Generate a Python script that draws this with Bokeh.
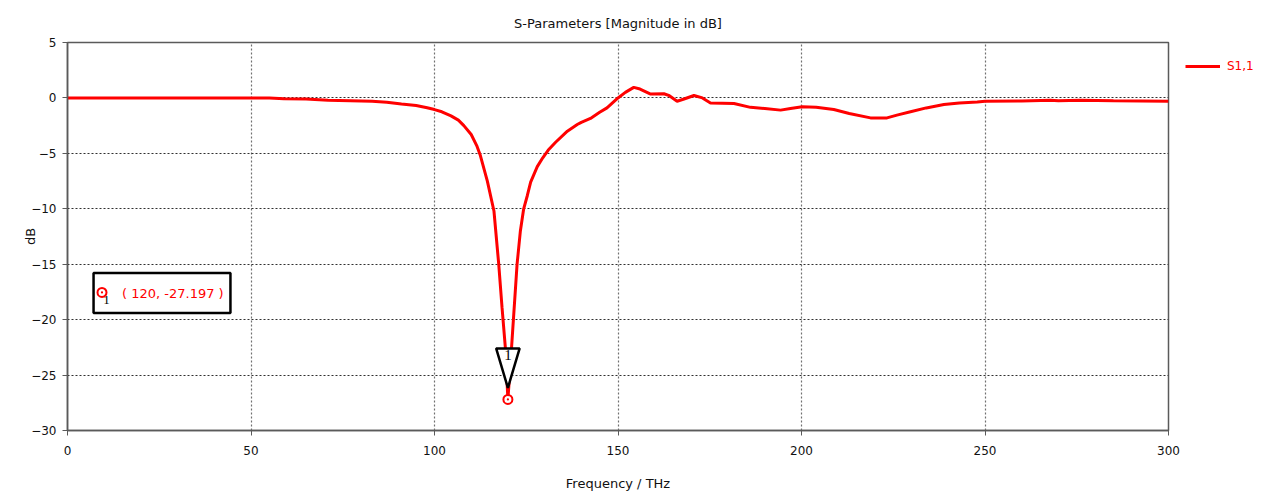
from bokeh.plotting import figure
from bokeh.models import Range1d, FixedTicker, Legend, LegendItem
from bokeh.core.properties import value
from bokeh.embed import file_html
from bokeh.resources import INLINE

# ---------------- data ----------------
freq_thz = [0, 20, 40, 55, 59, 65, 71, 77, 83, 87, 91, 95, 98, 100, 102, 104.5,
            106.5, 108, 110, 111.5, 112.5, 114.4, 116.2, 117.5, 118.4, 119.3, 120,
            121, 122.1, 122.5, 123.4, 124.3, 125.3, 126.2, 128, 129.5, 131, 133,
            136.2, 138.9, 140, 142.5, 145, 147, 150, 152, 154.3, 156, 158.9, 162.5,
            164, 166.1, 168, 170.7, 173, 175.2, 181.6, 186.1, 190, 194.3, 197, 200.2,
            204, 208.8, 213, 218.8, 223.3, 226, 229.7, 234, 238.8, 243, 247.9, 250,
            260, 267.8, 270, 276, 285, 300]
s11_db = [0, 0, 0, 0, -0.08, -0.1, -0.2, -0.25, -0.3, -0.38, -0.54, -0.68, -0.88,
          -1.05, -1.25, -1.62, -2.0, -2.5, -3.3, -4.3, -5.2, -7.5, -10.2, -15.0,
          -18.9, -22.5, -27.197, -22.5, -17.0, -15.0, -12.0, -10.0, -8.8, -7.6,
          -6.2, -5.4, -4.7, -4.0, -3.0, -2.4, -2.2, -1.85, -1.3, -0.9, 0.0, 0.5,
          0.95, 0.8, 0.35, 0.38, 0.2, -0.3, -0.1, 0.22, 0.0, -0.45, -0.5, -0.85,
          -0.95, -1.1, -0.95, -0.8, -0.85, -1.05, -1.4, -1.8, -1.8, -1.55, -1.25,
          -0.9, -0.6, -0.45, -0.37, -0.3, -0.27, -0.22, -0.25, -0.22, -0.26, -0.3]
x_ticks = [0, 50, 100, 150, 200, 250, 300]
y_ticks = [-30, -25, -20, -15, -10, -5, 0, 5]
series_name = "S1,1"
marker_id = "1"
marker_f = 120
marker_db = -27.197

# ---------------- style ----------------
RED = "#ff0000"
FONT = "DejaVu Sans"
FRAME = "#5a5a5a"

p = figure(frame_width=1101, frame_height=388, output_backend="svg",
           toolbar_location=None,
           x_range=Range1d(0, 300), y_range=Range1d(-30, 5),
           title="S-Parameters [Magnitude in dB]",
           x_axis_label="Frequency / THz", y_axis_label="dB")
p.min_border_left = 67
p.min_border_right = 96
p.min_border_top = 42
p.min_border_bottom = 65
p.background_fill_color = "white"
p.border_fill_color = "white"
p.outline_line_color = FRAME
p.outline_line_width = 1.5

p.title.align = "center"
p.title.text_font = FONT
p.title.text_font_size = "13px"
p.title.text_font_style = "normal"
p.title.text_color = "#111111"
p.title.offset = 0
p.title.standoff = 24

for ax in (p.xaxis[0], p.yaxis[0]):
    ax.axis_line_color = FRAME
    ax.axis_line_width = 1.5
    ax.major_tick_line_color = FRAME
    ax.major_tick_out = 5
    ax.major_tick_in = 0
    ax.minor_tick_out = 0
    ax.minor_tick_in = 0
    ax.major_label_text_font = FONT
    ax.major_label_text_font_size = "12px"
    ax.major_label_text_color = "#111111"
    ax.axis_label_text_font = FONT
    ax.axis_label_text_font_size = "13px"
    ax.axis_label_text_font_style = "normal"
    ax.axis_label_text_color = "#111111"
p.xaxis.ticker = FixedTicker(ticks=x_ticks)
p.yaxis.ticker = FixedTicker(ticks=y_ticks)
p.xaxis.major_label_standoff = 10
p.xaxis.axis_label_standoff = 18
p.yaxis.major_label_standoff = 6
p.yaxis.axis_label_standoff = -10

p.xgrid.ticker = FixedTicker(ticks=x_ticks)
p.ygrid.ticker = FixedTicker(ticks=y_ticks)
p.xgrid.grid_line_color = "#707070"
p.ygrid.grid_line_color = "#303030"
p.xgrid.grid_line_dash = "2 2"
p.ygrid.grid_line_dash = "2 2"
p.xgrid.grid_line_width = 1.2
p.ygrid.grid_line_width = 1.2

line = p.line(freq_thz, s11_db, line_color=RED, line_width=3)

# marker triangle (offsets from the marker point)
tri_half_w = 3.2
tri_top = marker_db + 4.6
tri_apex = marker_db + 1.05
p.patch([marker_f - tri_half_w, marker_f + tri_half_w, marker_f],
        [tri_top, tri_top, tri_apex],
        fill_color="white", line_color="black", line_width=2.5)
p.text([marker_f], [tri_top - 0.1], text=[marker_id], text_font_size="15px",
       text_align="center", text_baseline="top", text_color="black",
       text_font=value("Liberation Serif"))
p.scatter([marker_f], [marker_db], marker="circle_dot", size=9,
          line_color=RED, line_width=2, fill_color="white")

# marker info box
box_l, box_r, box_t, box_b = 7.1, 44.4, -15.8, -19.4
p.quad(left=[box_l], right=[box_r], top=[box_t], bottom=[box_b],
       fill_color="white", line_color="black", line_width=2.5)
p.scatter([box_l + 2.3], [box_t - 1.75], marker="circle_dot", size=9,
          line_color=RED, line_width=2, fill_color="white")
p.text([box_l + 3.5], [box_t - 2.1], text=[marker_id], text_font_size="13px",
       text_align="center", text_baseline="top", text_color="black",
       text_font=value("Liberation Serif"))
p.text([box_l + 21.6], [(box_t + box_b) / 2],
       text=[f"( {marker_f}, {marker_db} )"], text_font_size="13px",
       text_align="center", text_baseline="middle", text_color=RED,
       text_font=value(FONT))

legend = Legend(items=[LegendItem(label=series_name, renderers=[line])],
                location="top_left", margin=17, padding=0, border_line_color=None,
                background_fill_alpha=0, glyph_width=35, glyph_height=6,
                label_height=6, label_standoff=7, label_text_font=FONT,
                label_text_font_size="12px", label_text_color=RED,
                label_text_line_height=0.6)
p.add_layout(legend, "right")

open("out.html", "w").write(file_html(p, INLINE))
